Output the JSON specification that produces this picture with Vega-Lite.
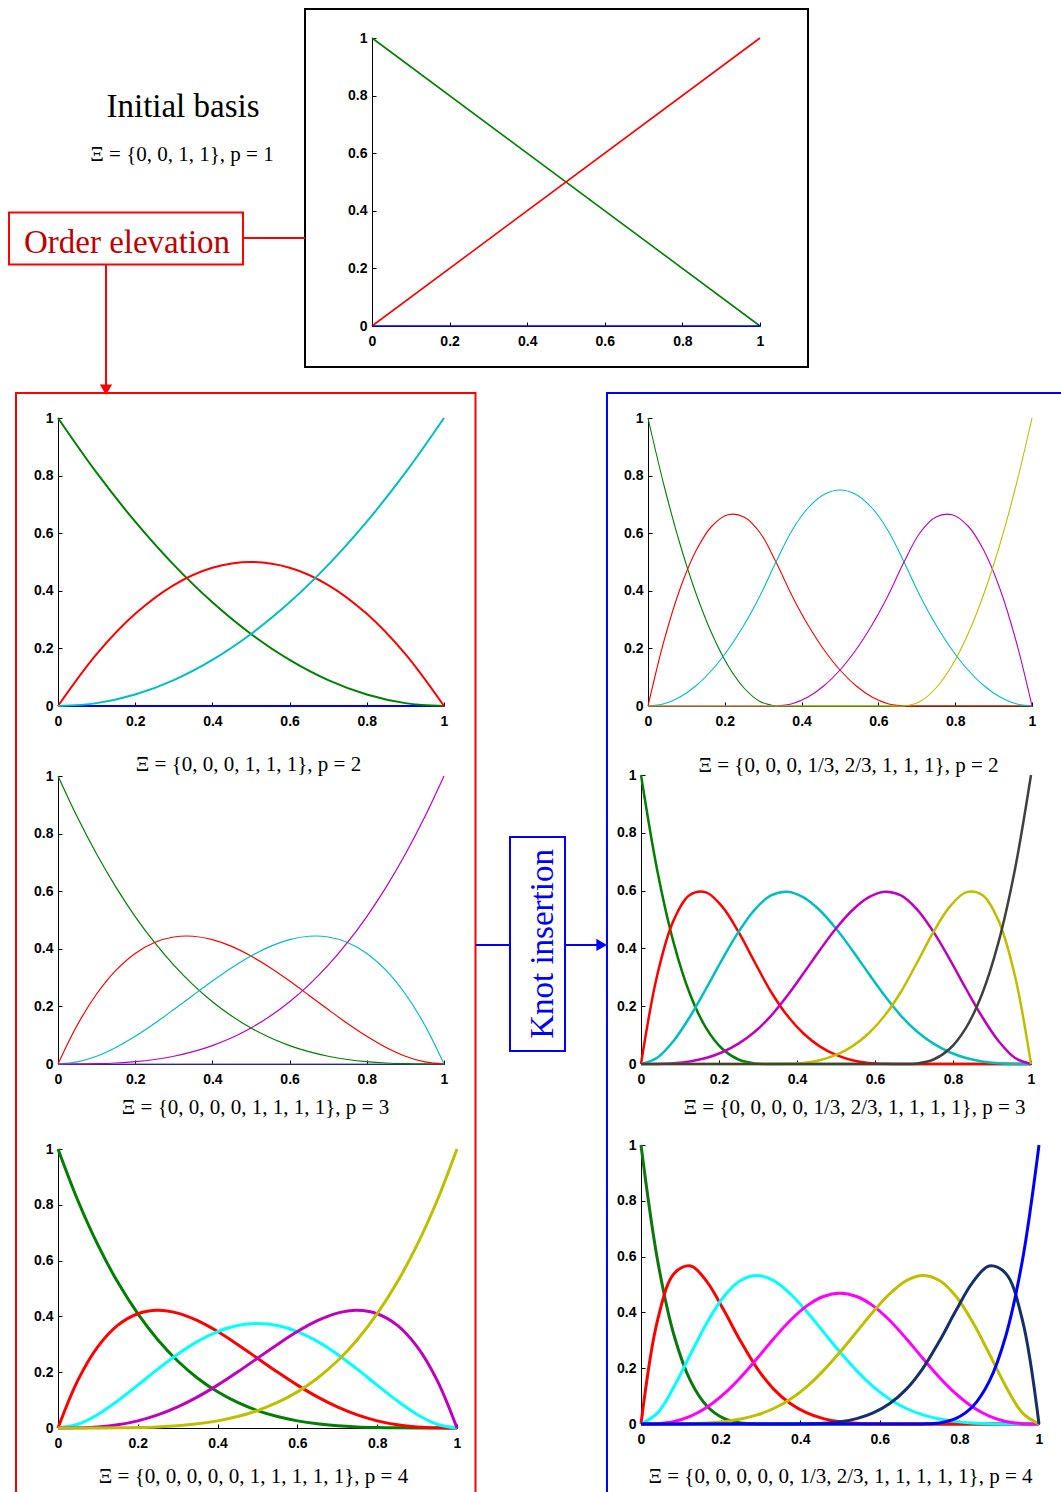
{
  "$schema": "https://vega.github.io/schema/vega-lite/v6.json",
  "width": 1061,
  "height": 1492,
  "padding": 0,
  "autosize": {"type": "none"},
  "background": "white",
  "config": {
    "view": {"stroke": null},
    "axis": {
      "domainColor": "#000000", "domainWidth": 1, "tickColor": "#000000", "tickSize": -4, "tickWidth": 1,
      "labelFont": "Liberation Sans", "labelFontSize": 14, "labelFontWeight": "bold", "labelColor": "#000000",
      "labelOverlap": false, "labelFlush": false, "grid": false,
      "titleFont": "Liberation Serif", "titleFontSize": 21, "titleFontWeight": "normal", "titleColor": "#000000", "titleBaseline": "alphabetic"
    },
    "axisX": {"labelPadding": 12},
    "axisY": {"labelPadding": 9}
  },
  "resolve": {"scale": {"x": "independent", "y": "independent", "color": "independent"}, "axis": {"x": "independent", "y": "independent"}},
  "layer": [
    {
      "encoding": {
        "x": {"field": "x", "type": "quantitative", "scale": {"domain": [0, 1], "range": [372, 760], "nice": false, "zero": false},
              "axis": {"orient": "bottom", "offset": -1166, "values": [0, 0.2, 0.4, 0.6, 0.8, 1], "format": "~g", "title": null}},
        "y": {"field": "y", "type": "quantitative", "scale": {"domain": [0, 1], "range": [326, 38], "nice": false, "zero": false},
              "axis": {"orient": "left", "offset": -372, "values": [0, 0.2, 0.4, 0.6, 0.8, 1], "format": "~g", "title": null}}
      },
      "layer": [
        {
          "data": {"values": [{"x": 0, "g": 1, "r": 0, "b": 0}, {"x": 1, "g": 0, "r": 1, "b": 0}]},
          "transform": [{"fold": ["g", "r", "b"], "as": ["fn", "y"]}],
          "mark": {"type": "line", "strokeWidth": 1.6},
          "encoding": {"color": {"field": "fn", "type": "nominal", "scale": {"domain": ["g", "r", "b"], "range": ["#008000", "#ff0000", "#0000ff"]}, "legend": null}}
        },
        {
          "data": {"values": [{"x": -0.1727, "x2": 1.1237, "y": -0.1424, "y2": 1.1007}]},
          "mark": {"type": "rect", "filled": false, "stroke": "#000000", "strokeWidth": 2},
          "encoding": {"x2": {"field": "x2"}, "y2": {"field": "y2"}}
        },
        {
          "data": {"values": [{"x": -0.9356, "x2": -0.3325, "y": 0.2135, "y2": 0.3941}]},
          "mark": {"type": "rect", "filled": false, "stroke": "#ff0000", "strokeWidth": 2},
          "encoding": {"x2": {"field": "x2"}, "y2": {"field": "y2"}}
        },
        {
          "data": {"values": [{"x": -0.3325, "x2": -0.1727, "y": 0.3056, "y2": 0.3056}, {"x": -0.6856, "x2": -0.6856, "y": 0.2135, "y2": -0.2049}]},
          "mark": {"type": "rule", "stroke": "#ff0000", "strokeWidth": 2},
          "encoding": {"x2": {"field": "x2"}, "y2": {"field": "y2"}}
        },
        {
          "data": {"values": [{"x": -0.6856, "y": -0.2212}]},
          "mark": {"type": "point", "shape": "triangle-down", "filled": true, "fill": "#ff0000", "stroke": null, "size": 150, "opacity": 1},
          "encoding": {}
        },
        {
          "data": {"values": [{"x": -0.4871, "y": 0.7257, "label": "Initial basis"}]},
          "mark": {"type": "text", "font": "Liberation Serif", "fontSize": 33, "align": "center", "baseline": "alphabetic", "color": "#000000"},
          "encoding": {"text": {"field": "label"}}
        },
        {
          "data": {"values": [{"x": -0.4897, "y": 0.5729, "label": "Ξ = {0, 0, 1, 1}, p = 1"}]},
          "mark": {"type": "text", "font": "Liberation Serif", "fontSize": 21, "align": "center", "baseline": "alphabetic", "color": "#000000"},
          "encoding": {"text": {"field": "label"}}
        },
        {
          "data": {"values": [{"x": -0.6314, "y": 0.2535, "label": "Order elevation"}]},
          "mark": {"type": "text", "font": "Liberation Serif", "fontSize": 33, "align": "center", "baseline": "alphabetic", "color": "#c00000"},
          "encoding": {"text": {"field": "label"}}
        }
      ]
    },
    {
      "encoding": {
        "x": {"field": "x", "type": "quantitative", "scale": {"domain": [0, 1], "range": [58, 444], "nice": false, "zero": false},
              "axis": {"orient": "bottom", "offset": -786, "values": [0, 0.2, 0.4, 0.6, 0.8, 1], "format": "~g", "title": "Ξ = {0, 0, 0, 1, 1, 1}, p = 2", "titleX": 248, "titleY": 64}},
        "y": {"field": "y", "type": "quantitative", "scale": {"domain": [0, 1], "range": [706, 418], "nice": false, "zero": false},
              "axis": {"orient": "left", "offset": -58, "values": [0, 0.2, 0.4, 0.6, 0.8, 1], "format": "~g", "title": null}}
      },
      "layer": [
        {
          "data": {"values": [
            {"x": 0, "b": 0, "g": 1, "r": 0, "c": 0},
            {"x": 0.1, "b": 0, "g": 0.81, "r": 0.18, "c": 0.01},
            {"x": 0.2, "b": 0, "g": 0.64, "r": 0.32, "c": 0.04},
            {"x": 0.3, "b": 0, "g": 0.49, "r": 0.42, "c": 0.09},
            {"x": 0.4, "b": 0, "g": 0.36, "r": 0.48, "c": 0.16},
            {"x": 0.5, "b": 0, "g": 0.25, "r": 0.5, "c": 0.25},
            {"x": 0.6, "b": 0, "g": 0.16, "r": 0.48, "c": 0.36},
            {"x": 0.7, "b": 0, "g": 0.09, "r": 0.42, "c": 0.49},
            {"x": 0.8, "b": 0, "g": 0.04, "r": 0.32, "c": 0.64},
            {"x": 0.9, "b": 0, "g": 0.01, "r": 0.18, "c": 0.81},
            {"x": 1, "b": 0, "g": 0, "r": 0, "c": 1}
          ]},
          "transform": [{"fold": ["b", "g", "r", "c"], "as": ["fn", "y"]}],
          "mark": {"type": "line", "interpolate": "catmull-rom", "strokeWidth": 2},
          "encoding": {"color": {"field": "fn", "type": "nominal", "scale": {"domain": ["b", "g", "r", "c"], "range": ["#0000ff", "#008000", "#ff0000", "#00bfbf"]}, "legend": null}}
        },
        {
          "data": {"values": [{"x": -0.1088, "x2": 1.0816, "y": -2.8264, "y2": 1.0868}]},
          "mark": {"type": "rect", "filled": false, "stroke": "#ff0000", "strokeWidth": 2},
          "encoding": {"x2": {"field": "x2"}, "y2": {"field": "y2"}}
        }
      ]
    },
    {
      "encoding": {
        "x": {"field": "x", "type": "quantitative", "scale": {"domain": [0, 1], "range": [58, 444], "nice": false, "zero": false},
              "axis": {"orient": "bottom", "offset": -428, "values": [0, 0.2, 0.4, 0.6, 0.8, 1], "format": "~g", "title": "Ξ = {0, 0, 0, 0, 1, 1, 1, 1}, p = 3", "titleX": 255, "titleY": 49}},
        "y": {"field": "y", "type": "quantitative", "scale": {"domain": [0, 1], "range": [1064, 776], "nice": false, "zero": false},
              "axis": {"orient": "left", "offset": -58, "values": [0, 0.2, 0.4, 0.6, 0.8, 1], "format": "~g", "title": null}}
      },
      "layer": [
        {
          "data": {"values": [
            {"x": 0, "b": 0, "g": 1, "r": 0, "c": 0, "m": 0},
            {"x": 0.05, "b": 0, "g": 0.8574, "r": 0.1354, "c": 0.0071, "m": 0.0001},
            {"x": 0.1, "b": 0, "g": 0.729, "r": 0.243, "c": 0.027, "m": 0.001},
            {"x": 0.15, "b": 0, "g": 0.6141, "r": 0.3251, "c": 0.0574, "m": 0.0034},
            {"x": 0.2, "b": 0, "g": 0.512, "r": 0.384, "c": 0.096, "m": 0.008},
            {"x": 0.25, "b": 0, "g": 0.4219, "r": 0.4219, "c": 0.1406, "m": 0.0156},
            {"x": 0.3, "b": 0, "g": 0.343, "r": 0.441, "c": 0.189, "m": 0.027},
            {"x": 0.35, "b": 0, "g": 0.2746, "r": 0.4436, "c": 0.2389, "m": 0.0429},
            {"x": 0.4, "b": 0, "g": 0.216, "r": 0.432, "c": 0.288, "m": 0.064},
            {"x": 0.45, "b": 0, "g": 0.1664, "r": 0.4084, "c": 0.3341, "m": 0.0911},
            {"x": 0.5, "b": 0, "g": 0.125, "r": 0.375, "c": 0.375, "m": 0.125},
            {"x": 0.55, "b": 0, "g": 0.0911, "r": 0.3341, "c": 0.4084, "m": 0.1664},
            {"x": 0.6, "b": 0, "g": 0.064, "r": 0.288, "c": 0.432, "m": 0.216},
            {"x": 0.65, "b": 0, "g": 0.0429, "r": 0.2389, "c": 0.4436, "m": 0.2746},
            {"x": 0.7, "b": 0, "g": 0.027, "r": 0.189, "c": 0.441, "m": 0.343},
            {"x": 0.75, "b": 0, "g": 0.0156, "r": 0.1406, "c": 0.4219, "m": 0.4219},
            {"x": 0.8, "b": 0, "g": 0.008, "r": 0.096, "c": 0.384, "m": 0.512},
            {"x": 0.85, "b": 0, "g": 0.0034, "r": 0.0574, "c": 0.3251, "m": 0.6141},
            {"x": 0.9, "b": 0, "g": 0.001, "r": 0.027, "c": 0.243, "m": 0.729},
            {"x": 0.95, "b": 0, "g": 0.0001, "r": 0.0071, "c": 0.1354, "m": 0.8574},
            {"x": 1, "b": 0, "g": 0, "r": 0, "c": 0, "m": 1}
          ]},
          "transform": [{"fold": ["b", "g", "r", "c", "m"], "as": ["fn", "y"]}],
          "mark": {"type": "line", "interpolate": "catmull-rom", "strokeWidth": 1.2},
          "encoding": {"color": {"field": "fn", "type": "nominal", "scale": {"domain": ["b", "g", "r", "c", "m"], "range": ["#5050ff", "#008000", "#ff0000", "#00bfbf", "#bf00bf"]}, "legend": null}}
        },
        {
          "data": {"values": [{"x": 1.171, "x2": 1.3135, "y": 0.0451, "y2": 0.7882}]},
          "mark": {"type": "rect", "filled": false, "stroke": "#0000ff", "strokeWidth": 2},
          "encoding": {"x2": {"field": "x2"}, "y2": {"field": "y2"}}
        },
        {
          "data": {"values": [{"x": 1.0816, "x2": 1.171, "y": 0.4132, "y2": 0.4132}, {"x": 1.3135, "x2": 1.3964, "y": 0.4132, "y2": 0.4132}]},
          "mark": {"type": "rule", "stroke": "#0000ff", "strokeWidth": 2},
          "encoding": {"x2": {"field": "x2"}, "y2": {"field": "y2"}}
        },
        {
          "data": {"values": [{"x": 1.4085, "y": 0.4132}]},
          "mark": {"type": "point", "shape": "triangle-right", "filled": true, "fill": "#0000ff", "stroke": null, "size": 150, "opacity": 1},
          "encoding": {}
        },
        {
          "data": {"values": [{"x": 1.2824, "y": 0.4167, "label": "Knot insertion"}]},
          "mark": {"type": "text", "font": "Liberation Serif", "fontSize": 33, "align": "center", "baseline": "alphabetic", "angle": 270, "color": "#0000ff"},
          "encoding": {"text": {"field": "label"}}
        }
      ]
    },
    {
      "encoding": {
        "x": {"field": "x", "type": "quantitative", "scale": {"domain": [0, 1], "range": [58, 457], "nice": false, "zero": false},
              "axis": {"orient": "bottom", "offset": -64, "values": [0, 0.2, 0.4, 0.6, 0.8, 1], "format": "~g", "title": "Ξ = {0, 0, 0, 0, 0, 1, 1, 1, 1, 1}, p = 4", "titleX": 253, "titleY": 54}},
        "y": {"field": "y", "type": "quantitative", "scale": {"domain": [0, 1], "range": [1428, 1149], "nice": false, "zero": false},
              "axis": {"orient": "left", "offset": -58, "values": [0, 0.2, 0.4, 0.6, 0.8, 1], "format": "~g", "title": null}}
      },
      "layer": [
        {
          "data": {"values": [
            {"x": 0, "g": 1, "r": 0, "c": 0, "m": 0, "yl": 0},
            {"x": 0.05, "g": 0.8145, "r": 0.1715, "c": 0.0135, "m": 0.0005, "yl": 0},
            {"x": 0.1, "g": 0.6561, "r": 0.2916, "c": 0.0486, "m": 0.0036, "yl": 0.0001},
            {"x": 0.15, "g": 0.522, "r": 0.3685, "c": 0.0975, "m": 0.0115, "yl": 0.0005},
            {"x": 0.2, "g": 0.4096, "r": 0.4096, "c": 0.1536, "m": 0.0256, "yl": 0.0016},
            {"x": 0.25, "g": 0.3164, "r": 0.4219, "c": 0.2109, "m": 0.0469, "yl": 0.0039},
            {"x": 0.3, "g": 0.2401, "r": 0.4116, "c": 0.2646, "m": 0.0756, "yl": 0.0081},
            {"x": 0.35, "g": 0.1785, "r": 0.3845, "c": 0.3105, "m": 0.1115, "yl": 0.015},
            {"x": 0.4, "g": 0.1296, "r": 0.3456, "c": 0.3456, "m": 0.1536, "yl": 0.0256},
            {"x": 0.45, "g": 0.0915, "r": 0.2995, "c": 0.3675, "m": 0.2005, "yl": 0.041},
            {"x": 0.5, "g": 0.0625, "r": 0.25, "c": 0.375, "m": 0.25, "yl": 0.0625},
            {"x": 0.55, "g": 0.041, "r": 0.2005, "c": 0.3675, "m": 0.2995, "yl": 0.0915},
            {"x": 0.6, "g": 0.0256, "r": 0.1536, "c": 0.3456, "m": 0.3456, "yl": 0.1296},
            {"x": 0.65, "g": 0.015, "r": 0.1115, "c": 0.3105, "m": 0.3845, "yl": 0.1785},
            {"x": 0.7, "g": 0.0081, "r": 0.0756, "c": 0.2646, "m": 0.4116, "yl": 0.2401},
            {"x": 0.75, "g": 0.0039, "r": 0.0469, "c": 0.2109, "m": 0.4219, "yl": 0.3164},
            {"x": 0.8, "g": 0.0016, "r": 0.0256, "c": 0.1536, "m": 0.4096, "yl": 0.4096},
            {"x": 0.85, "g": 0.0005, "r": 0.0115, "c": 0.0975, "m": 0.3685, "yl": 0.522},
            {"x": 0.9, "g": 0.0001, "r": 0.0036, "c": 0.0486, "m": 0.2916, "yl": 0.6561},
            {"x": 0.95, "g": 0, "r": 0.0005, "c": 0.0135, "m": 0.1715, "yl": 0.8145},
            {"x": 1, "g": 0, "r": 0, "c": 0, "m": 0, "yl": 1}
          ]},
          "transform": [{"fold": ["g", "r", "c", "m", "yl"], "as": ["fn", "y"]}],
          "mark": {"type": "line", "interpolate": "catmull-rom", "strokeWidth": 3},
          "encoding": {"color": {"field": "fn", "type": "nominal", "scale": {"domain": ["g", "r", "c", "m", "yl"], "range": ["#008000", "#ff0000", "#00ffff", "#bf00bf", "#bfbf00"]}, "legend": null}}
        }
      ]
    },
    {
      "encoding": {
        "x": {"field": "x", "type": "quantitative", "scale": {"domain": [0, 1], "range": [648, 1032], "nice": false, "zero": false},
              "axis": {"orient": "bottom", "offset": -786, "values": [0, 0.2, 0.4, 0.6, 0.8, 1], "format": "~g", "title": "Ξ = {0, 0, 0, 1/3, 2/3, 1, 1, 1}, p = 2", "titleX": 848, "titleY": 65}},
        "y": {"field": "y", "type": "quantitative", "scale": {"domain": [0, 1], "range": [706, 418], "nice": false, "zero": false},
              "axis": {"orient": "left", "offset": -648, "values": [0, 0.2, 0.4, 0.6, 0.8, 1], "format": "~g", "title": null}}
      },
      "layer": [
        {
          "data": {"values": [
            {"x": 0, "g": 1, "r": 0, "c": 0, "m": 0, "yl": 0},
            {"x": 0.0417, "g": 0.7656, "r": 0.2266, "c": 0.0078, "m": 0, "yl": 0},
            {"x": 0.0833, "g": 0.5625, "r": 0.4063, "c": 0.0313, "m": 0, "yl": 0},
            {"x": 0.125, "g": 0.3906, "r": 0.5391, "c": 0.0703, "m": 0, "yl": 0},
            {"x": 0.1667, "g": 0.25, "r": 0.625, "c": 0.125, "m": 0, "yl": 0},
            {"x": 0.2083, "g": 0.1406, "r": 0.6641, "c": 0.1953, "m": 0, "yl": 0},
            {"x": 0.25, "g": 0.0625, "r": 0.6563, "c": 0.2813, "m": 0, "yl": 0},
            {"x": 0.2917, "g": 0.0156, "r": 0.6016, "c": 0.3828, "m": 0, "yl": 0},
            {"x": 0.3333, "g": 0, "r": 0.5, "c": 0.5, "m": 0, "yl": 0},
            {"x": 0.375, "g": 0, "r": 0.3828, "c": 0.6094, "m": 0.0078, "yl": 0},
            {"x": 0.4167, "g": 0, "r": 0.2813, "c": 0.6875, "m": 0.0313, "yl": 0},
            {"x": 0.4583, "g": 0, "r": 0.1953, "c": 0.7344, "m": 0.0703, "yl": 0},
            {"x": 0.5, "g": 0, "r": 0.125, "c": 0.75, "m": 0.125, "yl": 0},
            {"x": 0.5417, "g": 0, "r": 0.0703, "c": 0.7344, "m": 0.1953, "yl": 0},
            {"x": 0.5833, "g": 0, "r": 0.0313, "c": 0.6875, "m": 0.2813, "yl": 0},
            {"x": 0.625, "g": 0, "r": 0.0078, "c": 0.6094, "m": 0.3828, "yl": 0},
            {"x": 0.6667, "g": 0, "r": 0, "c": 0.5, "m": 0.5, "yl": 0},
            {"x": 0.7083, "g": 0, "r": 0, "c": 0.3828, "m": 0.6016, "yl": 0.0156},
            {"x": 0.75, "g": 0, "r": 0, "c": 0.2813, "m": 0.6563, "yl": 0.0625},
            {"x": 0.7917, "g": 0, "r": 0, "c": 0.1953, "m": 0.6641, "yl": 0.1406},
            {"x": 0.8333, "g": 0, "r": 0, "c": 0.125, "m": 0.625, "yl": 0.25},
            {"x": 0.875, "g": 0, "r": 0, "c": 0.0703, "m": 0.5391, "yl": 0.3906},
            {"x": 0.9167, "g": 0, "r": 0, "c": 0.0313, "m": 0.4063, "yl": 0.5625},
            {"x": 0.9583, "g": 0, "r": 0, "c": 0.0078, "m": 0.2266, "yl": 0.7656},
            {"x": 1, "g": 0, "r": 0, "c": 0, "m": 0, "yl": 1}
          ]},
          "transform": [{"fold": ["g", "r", "c", "m", "yl"], "as": ["fn", "y"]}],
          "mark": {"type": "line", "interpolate": "catmull-rom", "strokeWidth": 1.1},
          "encoding": {"color": {"field": "fn", "type": "nominal", "scale": {"domain": ["g", "r", "c", "m", "yl"], "range": ["#008000", "#ff0000", "#00bfbf", "#bf00bf", "#bfbf00"]}, "legend": null}}
        },
        {
          "data": {"values": [{"x": -0.1068, "x2": 1.151, "y": -2.8264, "y2": 1.0868}]},
          "mark": {"type": "rect", "filled": false, "stroke": "#0000ff", "strokeWidth": 2},
          "encoding": {"x2": {"field": "x2"}, "y2": {"field": "y2"}}
        }
      ]
    },
    {
      "encoding": {
        "x": {"field": "x", "type": "quantitative", "scale": {"domain": [0, 1], "range": [641, 1031], "nice": false, "zero": false},
              "axis": {"orient": "bottom", "offset": -428, "values": [0, 0.2, 0.4, 0.6, 0.8, 1], "format": "~g", "title": "Ξ = {0, 0, 0, 0, 1/3, 2/3, 1, 1, 1, 1}, p = 3", "titleX": 854, "titleY": 49}},
        "y": {"field": "y", "type": "quantitative", "scale": {"domain": [0, 1], "range": [1064, 775], "nice": false, "zero": false},
              "axis": {"orient": "left", "offset": -641, "values": [0, 0.2, 0.4, 0.6, 0.8, 1], "format": "~g", "title": null}}
      },
      "layer": [
        {
          "data": {"values": [
            {"x": 0, "g": 1, "r": 0, "c": 0, "m": 0, "yl": 0, "k": 0},
            {"x": 0.0417, "g": 0.6699, "r": 0.3081, "c": 0.0216, "m": 0.0003, "yl": 0, "k": 0},
            {"x": 0.0833, "g": 0.4219, "r": 0.4961, "c": 0.0794, "m": 0.0026, "yl": 0, "k": 0},
            {"x": 0.125, "g": 0.2441, "r": 0.5845, "c": 0.1626, "m": 0.0088, "yl": 0, "k": 0},
            {"x": 0.1667, "g": 0.125, "r": 0.5938, "c": 0.2604, "m": 0.0208, "yl": 0, "k": 0},
            {"x": 0.2083, "g": 0.0527, "r": 0.5444, "c": 0.3621, "m": 0.0407, "yl": 0, "k": 0},
            {"x": 0.25, "g": 0.0156, "r": 0.457, "c": 0.457, "m": 0.0703, "yl": 0, "k": 0},
            {"x": 0.2917, "g": 0.002, "r": 0.3521, "c": 0.5343, "m": 0.1117, "yl": 0, "k": 0},
            {"x": 0.3333, "g": 0, "r": 0.25, "c": 0.5833, "m": 0.1667, "yl": 0, "k": 0},
            {"x": 0.375, "g": 0, "r": 0.1675, "c": 0.5962, "m": 0.2358, "yl": 0.0005, "k": 0},
            {"x": 0.4167, "g": 0, "r": 0.1055, "c": 0.5768, "m": 0.3138, "yl": 0.0039, "k": 0},
            {"x": 0.4583, "g": 0, "r": 0.061, "c": 0.5321, "m": 0.3937, "yl": 0.0132, "k": 0},
            {"x": 0.5, "g": 0, "r": 0.0313, "c": 0.4688, "m": 0.4688, "yl": 0.0313, "k": 0},
            {"x": 0.5417, "g": 0, "r": 0.0132, "c": 0.3937, "m": 0.5321, "yl": 0.061, "k": 0},
            {"x": 0.5833, "g": 0, "r": 0.0039, "c": 0.3138, "m": 0.5768, "yl": 0.1055, "k": 0},
            {"x": 0.625, "g": 0, "r": 0.0005, "c": 0.2358, "m": 0.5962, "yl": 0.1675, "k": 0},
            {"x": 0.6667, "g": 0, "r": 0, "c": 0.1667, "m": 0.5833, "yl": 0.25, "k": 0},
            {"x": 0.7083, "g": 0, "r": 0, "c": 0.1117, "m": 0.5343, "yl": 0.3521, "k": 0.002},
            {"x": 0.75, "g": 0, "r": 0, "c": 0.0703, "m": 0.457, "yl": 0.457, "k": 0.0156},
            {"x": 0.7917, "g": 0, "r": 0, "c": 0.0407, "m": 0.3621, "yl": 0.5444, "k": 0.0527},
            {"x": 0.8333, "g": 0, "r": 0, "c": 0.0208, "m": 0.2604, "yl": 0.5938, "k": 0.125},
            {"x": 0.875, "g": 0, "r": 0, "c": 0.0088, "m": 0.1626, "yl": 0.5845, "k": 0.2441},
            {"x": 0.9167, "g": 0, "r": 0, "c": 0.0026, "m": 0.0794, "yl": 0.4961, "k": 0.4219},
            {"x": 0.9583, "g": 0, "r": 0, "c": 0.0003, "m": 0.0216, "yl": 0.3081, "k": 0.6699},
            {"x": 1, "g": 0, "r": 0, "c": 0, "m": 0, "yl": 0, "k": 1}
          ]},
          "transform": [{"fold": ["g", "r", "c", "m", "yl", "k"], "as": ["fn", "y"]}],
          "mark": {"type": "line", "interpolate": "catmull-rom", "strokeWidth": 2.5},
          "encoding": {"color": {"field": "fn", "type": "nominal", "scale": {"domain": ["g", "r", "c", "m", "yl", "k"], "range": ["#008000", "#ff0000", "#00bfbf", "#bf00bf", "#bfbf00", "#404040"]}, "legend": null}}
        }
      ]
    },
    {
      "encoding": {
        "x": {"field": "x", "type": "quantitative", "scale": {"domain": [0, 1], "range": [641, 1039], "nice": false, "zero": false},
              "axis": {"orient": "bottom", "offset": -68, "values": [0, 0.2, 0.4, 0.6, 0.8, 1], "format": "~g", "title": "Ξ = {0, 0, 0, 0, 0, 1/3, 2/3, 1, 1, 1, 1, 1}, p = 4", "titleX": 840, "titleY": 58}},
        "y": {"field": "y", "type": "quantitative", "scale": {"domain": [0, 1], "range": [1424, 1145], "nice": false, "zero": false},
              "axis": {"orient": "left", "offset": -641, "values": [0, 0.2, 0.4, 0.6, 0.8, 1], "format": "~g", "title": null}}
      },
      "layer": [
        {
          "data": {"values": [
            {"x": 0, "g": 1, "r": 0, "c": 0, "m": 0, "yl": 0, "n": 0, "b": 0},
            {"x": 0.0417, "g": 0.5862, "r": 0.3726, "c": 0.04, "m": 0.0012, "yl": 0, "n": 0, "b": 0},
            {"x": 0.0833, "g": 0.3164, "r": 0.5396, "c": 0.1348, "m": 0.009, "yl": 0.0002, "n": 0, "b": 0},
            {"x": 0.125, "g": 0.1526, "r": 0.5664, "c": 0.2519, "m": 0.028, "yl": 0.0011, "n": 0, "b": 0},
            {"x": 0.1667, "g": 0.0625, "r": 0.5078, "c": 0.3654, "m": 0.0607, "yl": 0.0035, "n": 0, "b": 0},
            {"x": 0.2083, "g": 0.0198, "r": 0.4073, "c": 0.4568, "m": 0.1077, "yl": 0.0085, "n": 0, "b": 0},
            {"x": 0.25, "g": 0.0039, "r": 0.2974, "c": 0.5142, "m": 0.167, "yl": 0.0176, "n": 0, "b": 0},
            {"x": 0.2917, "g": 0.0002, "r": 0.1997, "c": 0.5325, "m": 0.235, "yl": 0.0326, "n": 0, "b": 0},
            {"x": 0.3333, "g": 0, "r": 0.125, "c": 0.5139, "m": 0.3056, "yl": 0.0556, "n": 0, "b": 0},
            {"x": 0.375, "g": 0, "r": 0.0733, "c": 0.4668, "m": 0.371, "yl": 0.0889, "n": 0, "b": 0},
            {"x": 0.4167, "g": 0, "r": 0.0396, "c": 0.4024, "m": 0.4234, "yl": 0.1342, "n": 0.0005, "b": 0},
            {"x": 0.4583, "g": 0, "r": 0.0191, "c": 0.3302, "m": 0.4571, "yl": 0.1912, "n": 0.0025, "b": 0},
            {"x": 0.5, "g": 0, "r": 0.0078, "c": 0.2578, "m": 0.4688, "yl": 0.2578, "n": 0.0078, "b": 0},
            {"x": 0.5417, "g": 0, "r": 0.0025, "c": 0.1912, "m": 0.4571, "yl": 0.3302, "n": 0.0191, "b": 0},
            {"x": 0.5833, "g": 0, "r": 0.0005, "c": 0.1342, "m": 0.4234, "yl": 0.4024, "n": 0.0396, "b": 0},
            {"x": 0.625, "g": 0, "r": 0, "c": 0.0889, "m": 0.371, "yl": 0.4668, "n": 0.0733, "b": 0},
            {"x": 0.6667, "g": 0, "r": 0, "c": 0.0556, "m": 0.3056, "yl": 0.5139, "n": 0.125, "b": 0},
            {"x": 0.7083, "g": 0, "r": 0, "c": 0.0326, "m": 0.235, "yl": 0.5325, "n": 0.1997, "b": 0.0002},
            {"x": 0.75, "g": 0, "r": 0, "c": 0.0176, "m": 0.167, "yl": 0.5142, "n": 0.2974, "b": 0.0039},
            {"x": 0.7917, "g": 0, "r": 0, "c": 0.0085, "m": 0.1077, "yl": 0.4568, "n": 0.4073, "b": 0.0198},
            {"x": 0.8333, "g": 0, "r": 0, "c": 0.0035, "m": 0.0607, "yl": 0.3654, "n": 0.5078, "b": 0.0625},
            {"x": 0.875, "g": 0, "r": 0, "c": 0.0011, "m": 0.028, "yl": 0.2519, "n": 0.5664, "b": 0.1526},
            {"x": 0.9167, "g": 0, "r": 0, "c": 0.0002, "m": 0.009, "yl": 0.1348, "n": 0.5396, "b": 0.3164},
            {"x": 0.9583, "g": 0, "r": 0, "c": 0, "m": 0.0012, "yl": 0.04, "n": 0.3726, "b": 0.5862},
            {"x": 1, "g": 0, "r": 0, "c": 0, "m": 0, "yl": 0, "n": 0, "b": 1}
          ]},
          "transform": [{"fold": ["g", "r", "c", "m", "yl", "n", "b"], "as": ["fn", "y"]}],
          "mark": {"type": "line", "interpolate": "catmull-rom", "strokeWidth": 3},
          "encoding": {"color": {"field": "fn", "type": "nominal", "scale": {"domain": ["g", "r", "c", "m", "yl", "n", "b"], "range": ["#0a780a", "#ff0000", "#00ffff", "#ff00ff", "#bfbf00", "#142f6a", "#0000ff"]}, "legend": null}}
        }
      ]
    }
  ]
}
